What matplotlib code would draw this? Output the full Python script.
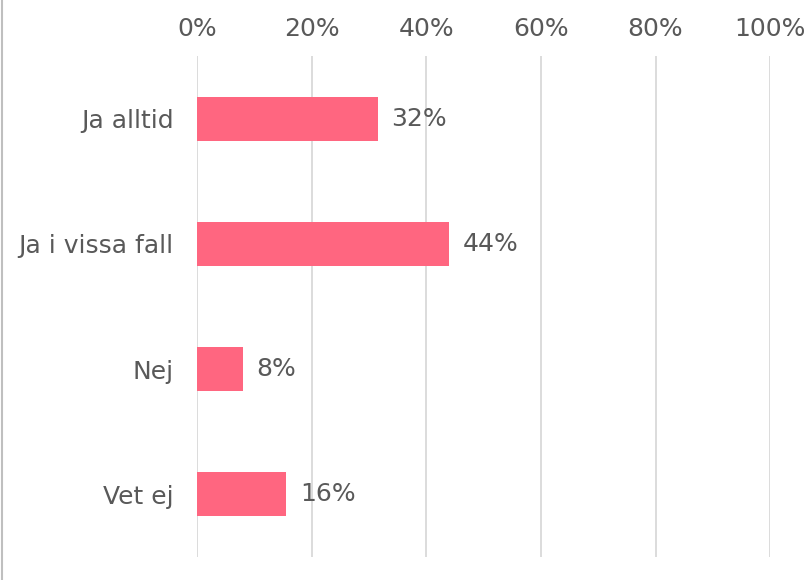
import matplotlib
matplotlib.use("Agg")
import matplotlib.pyplot as plt
from matplotlib.lines import Line2D

# data
categories = ["Ja alltid", "Ja i vissa fall", "Nej", "Vet ej"]
values = [0.315, 0.44, 0.08, 0.156]
value_labels = ["32%", "44%", "8%", "16%"]
ticks = [0, 0.2, 0.4, 0.6, 0.8, 1.0]
tick_labels = ["0%", "20%", "40%", "60%", "80%", "100%"]

text_col = "#595959"
bar_col = "#FF6680"

fig = plt.figure(figsize=(8.09, 5.8), dpi=100)
ax = fig.add_axes([0.2435, 0.04, 0.7085, 0.863])

y = list(range(len(categories)))
ax.barh(y, values, height=0.35, color=bar_col, zorder=3)
for yi, v, lab in zip(y, values, value_labels):
    ax.text(v + 0.024, yi, lab, va="center", ha="left", fontsize=18, color=text_col)

ax.set_xlim(0, 1.0)
ax.set_ylim(3.5, -0.5)
ax.set_xticks(ticks)
ax.set_xticklabels(tick_labels)
ax.set_yticks(y)
ax.set_yticklabels(categories)
ax.xaxis.tick_top()
ax.tick_params(axis="x", length=0, pad=11, labelsize=18, colors=text_col)
ax.tick_params(axis="y", length=0, pad=17, labelsize=18, colors=text_col)
ax.grid(axis="x", color="#D9D9D9", linewidth=1.3, zorder=0)
for s in ax.spines.values():
    s.set_visible(False)

# chart border on the left edge
fig.add_artist(Line2D([0.003, 0.003], [0.0, 1.0], transform=fig.transFigure,
                      color="#BFBFBF", linewidth=1.5))

fig.savefig("out.png", dpi=100)
